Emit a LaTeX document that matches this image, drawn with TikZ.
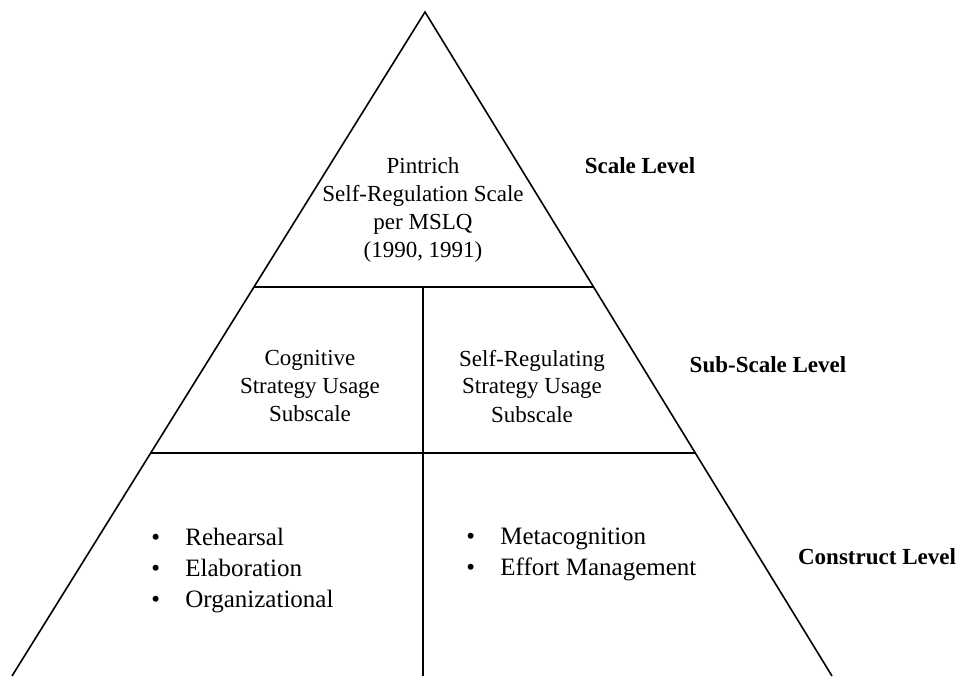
\documentclass[tikz,border=0pt]{standalone}
\usepackage{fontspec}
\setmainfont{Liberation Serif}
\usetikzlibrary{calc}
\newcommand\pitem[1]{\makebox[17pt][l]{\textbullet}#1}

\begin{document}
\begin{tikzpicture}[
    x=0.5pt,y=-0.5pt,
    txt/.style={align=center,inner sep=0pt,font=\fontsize{11.5}{14}\selectfont},
    lvl/.style={inner sep=0pt,font=\fontsize{11.5}{14}\selectfont\bfseries},
    pts/.style={align=left,inner sep=0pt,anchor=north west,font=\fontsize{12.5}{15.5}\selectfont},
    edge/.style={line width=0.8pt}]
    \clip (0,0) rectangle (961,676);
    % pyramid outline
    \coordinate (apex) at (425,12);
    \coordinate (bl) at (12,676);
    \coordinate (br) at (832,676);
    \coordinate (s1l) at ($(apex)!0.4142!(bl)$);
    \coordinate (s1r) at ($(apex)!0.4142!(br)$);
    \coordinate (s2l) at ($(apex)!0.6642!(bl)$);
    \coordinate (s2r) at ($(apex)!0.6642!(br)$);
    \coordinate (mid) at (423,0 |- s1l);
    \coordinate (foot) at (mid |- bl);
    \draw[edge] (bl) -- (apex) -- (br);
    \draw[edge] (s1l) -- (s1r);
    \draw[edge] (s2l) -- (s2r);
    \draw[edge] (mid) -- (foot);
    % texts
    \node[txt] (scale) at (423,210) {Pintrich\\Self-Regulation Scale\\per MSLQ\\(1990, 1991)};
    \node[txt] (cog) at (310,386) {Cognitive\\Strategy Usage\\Subscale};
    \node[txt] (selfreg) at (532,386) {Self-Regulating\\Strategy Usage\\Subscale};
    \node[pts] (cogpts) at (151,528) {\pitem{Rehearsal}\\\pitem{Elaboration}\\\pitem{Organizational}};
    \node[pts] (selfpts) at (466,528) {\pitem{Metacognition}\\\pitem{Effort Management}};
    % levels
    \node[lvl] (scalelvl) at (640,166) {Scale Level};
    \node[lvl] (sublvl) at (768,365) {Sub-Scale Level};
    \node[lvl] (conlvl) at (877,557) {Construct Level};
  \end{tikzpicture}
\end{document}
